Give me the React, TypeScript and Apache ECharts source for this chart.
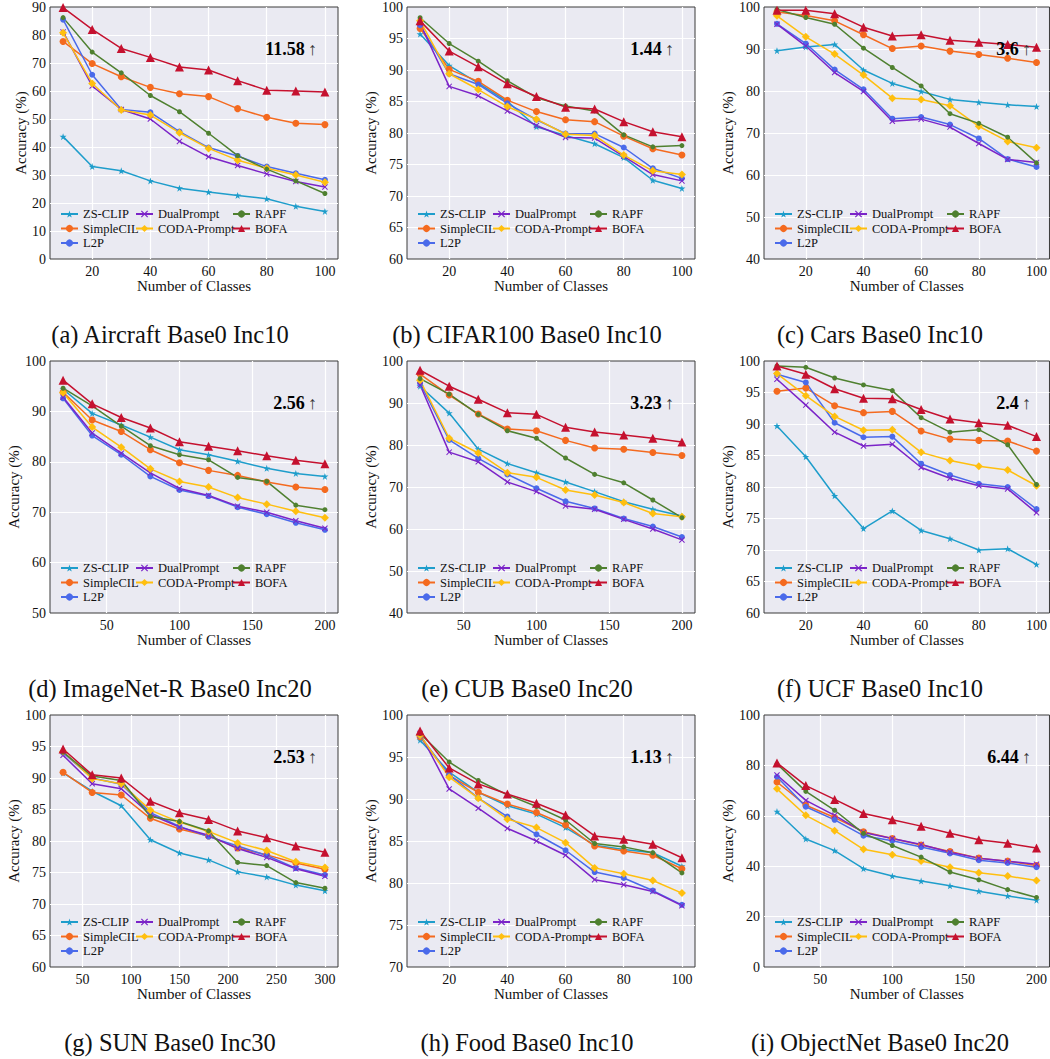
import React, { useEffect, useRef } from 'react';
import * as echarts from 'echarts';

const METHODS = ['ZS-CLIP', 'SimpleCIL', 'L2P', 'DualPrompt', 'CODA-Prompt', 'RAPF', 'BOFA'];

const X_INC10 = [10, 20, 30, 40, 50, 60, 70, 80, 90, 100];
const X_INC20 = [20, 40, 60, 80, 100, 120, 140, 160, 180, 200];
const X_INC30 = [30, 60, 90, 120, 150, 180, 210, 240, 270, 300];

const TICKS_INC10 = [20, 40, 60, 80, 100];
const TICKS_INC20 = [50, 100, 150, 200];
const TICKS_INC30 = [50, 100, 150, 200, 250, 300];

// rows follow METHODS order
const aircraftValues = [
  [43.7, 33.0, 31.5, 27.9, 25.3, 23.9, 22.7, 21.5, 18.8, 17.0],
  [77.7, 69.8, 65.1, 61.3, 59.0, 58.0, 53.7, 50.6, 48.5, 48.0],
  [85.5, 65.8, 53.4, 52.4, 45.5, 39.8, 36.8, 33.0, 30.6, 28.3],
  [81.1, 61.8, 53.4, 50.0, 42.0, 36.5, 33.4, 30.4, 27.7, 25.7],
  [80.8, 62.7, 53.2, 51.4, 45.1, 39.5, 35.3, 32.4, 30.0, 27.4],
  [86.2, 73.9, 66.5, 58.4, 52.6, 44.9, 36.9, 32.1, 27.9, 23.4],
  [89.8, 82.0, 75.2, 72.0, 68.6, 67.5, 63.7, 60.3, 60.0, 59.6],
];

const cifarValues = [
  [95.7, 90.7, 87.9, 85.0, 81.0, 79.6, 78.3, 76.1, 72.5, 71.2],
  [96.6, 90.1, 88.2, 85.2, 83.4, 82.1, 81.8, 79.5, 77.5, 76.5],
  [97.1, 89.4, 87.7, 84.7, 82.1, 79.9, 79.9, 77.7, 74.4, 72.8],
  [97.4, 87.4, 85.9, 83.5, 81.2, 79.3, 79.2, 76.3, 73.4, 72.4],
  [97.8, 89.4, 86.9, 84.2, 82.2, 79.8, 79.6, 76.5, 74.0, 73.4],
  [98.3, 94.2, 91.4, 88.3, 85.6, 84.3, 83.5, 79.7, 77.8, 78.0],
  [97.8, 93.0, 90.5, 87.8, 85.8, 84.1, 83.8, 81.8, 80.2, 79.4],
];

const carsValues = [
  [89.6, 90.5, 91.1, 85.0, 81.8, 79.9, 78.0, 77.3, 76.7, 76.3],
  [98.8, 98.0, 96.7, 93.4, 90.1, 90.7, 89.5, 88.7, 87.8, 86.8],
  [96.0, 91.3, 85.1, 80.4, 73.4, 73.8, 72.0, 68.7, 63.8, 61.9],
  [95.9, 90.7, 84.4, 79.9, 72.8, 73.3, 71.4, 67.5, 63.7, 63.0],
  [97.9, 92.9, 88.8, 83.8, 78.3, 78.0, 76.5, 71.6, 68.0, 66.5],
  [99.4, 97.5, 95.9, 90.2, 85.6, 81.2, 74.6, 72.3, 69.0, 62.9],
  [99.2, 99.2, 98.4, 95.2, 93.1, 93.4, 92.1, 91.6, 91.1, 90.4],
];

const imagenetRValues = [
  [94.4, 89.6, 87.3, 84.9, 82.4, 81.4, 80.1, 78.7, 77.7, 77.1],
  [93.8, 88.3, 86.0, 82.4, 79.8, 78.3, 77.3, 76.0, 75.0, 74.5],
  [92.6, 85.2, 81.4, 77.1, 74.4, 73.2, 71.0, 69.6, 67.9, 66.5],
  [92.8, 85.7, 81.7, 77.8, 74.7, 73.3, 71.2, 70.0, 68.3, 66.8],
  [93.7, 86.9, 82.9, 78.6, 76.1, 75.0, 72.9, 71.6, 70.2, 68.9],
  [94.6, 91.1, 87.1, 83.2, 81.4, 80.4, 76.9, 76.1, 71.4, 70.5],
  [96.2, 91.5, 88.8, 86.7, 84.0, 83.1, 82.2, 81.2, 80.3, 79.6],
];

const cubValues = [
  [94.0, 87.6, 79.0, 75.6, 73.4, 71.2, 68.9, 66.5, 64.7, 63.1],
  [96.9, 91.9, 87.4, 83.8, 83.4, 81.1, 79.3, 79.0, 78.2, 77.5],
  [94.7, 81.2, 76.8, 73.0, 69.7, 66.6, 64.9, 62.5, 60.6, 58.1],
  [94.3, 78.3, 76.0, 71.2, 68.9, 65.5, 64.7, 62.3, 60.0, 57.4],
  [95.4, 81.6, 78.1, 73.4, 72.3, 69.3, 68.1, 66.3, 63.7, 62.9],
  [95.8, 92.1, 87.3, 83.4, 81.6, 76.9, 73.0, 71.0, 66.9, 62.7],
  [97.8, 94.0, 90.9, 87.7, 87.3, 84.2, 83.1, 82.4, 81.6, 80.7],
];

const ucfValues = [
  [89.7, 84.8, 78.6, 73.4, 76.2, 73.1, 71.8, 70.0, 70.2, 67.7],
  [95.2, 95.7, 92.9, 91.8, 92.0, 88.9, 87.6, 87.4, 87.3, 85.7],
  [97.9, 96.6, 90.2, 87.9, 88.0, 83.7, 81.9, 80.5, 80.0, 76.5],
  [97.1, 93.0, 88.7, 86.5, 86.8, 83.1, 81.4, 80.2, 79.7, 75.9],
  [98.0, 94.5, 91.2, 89.0, 89.1, 85.5, 84.2, 83.3, 82.7, 80.2],
  [99.2, 99.0, 97.3, 96.2, 95.3, 91.0, 88.7, 89.1, 86.7, 80.4],
  [99.2, 97.9, 95.6, 94.1, 94.0, 92.3, 90.8, 90.2, 89.8, 88.0],
];

const sunValues = [
  [90.8, 87.9, 85.6, 80.2, 78.1, 77.0, 75.1, 74.3, 73.0, 72.1],
  [90.9, 87.7, 87.3, 83.6, 81.9, 80.8, 78.9, 77.8, 76.5, 75.5],
  [94.0, 90.0, 89.0, 84.5, 82.3, 80.7, 79.2, 77.7, 75.7, 74.6],
  [93.6, 89.1, 88.3, 84.2, 82.2, 80.9, 78.8, 77.4, 75.6, 74.4],
  [94.2, 89.9, 89.1, 84.9, 83.0, 81.5, 79.7, 78.5, 76.7, 75.8],
  [94.1, 90.3, 89.6, 83.9, 83.1, 81.6, 76.6, 76.1, 73.4, 72.5],
  [94.6, 90.5, 90.0, 86.3, 84.5, 83.4, 81.6, 80.5, 79.2, 78.2],
];

const foodValues = [
  [97.0, 93.2, 90.8, 89.2, 88.2, 86.6, 84.5, 84.0, 83.6, 82.0],
  [97.4, 92.8, 90.8, 89.4, 88.4, 86.9, 84.4, 83.8, 83.3, 81.7],
  [97.5, 92.9, 90.1, 87.9, 85.8, 83.9, 81.3, 80.6, 79.1, 77.4],
  [97.8, 91.2, 88.9, 86.5, 85.0, 83.3, 80.4, 79.8, 79.0, 77.3],
  [97.6, 92.6, 90.1, 87.6, 86.6, 84.8, 81.8, 81.1, 80.3, 78.8],
  [97.8, 94.4, 92.2, 90.5, 89.1, 87.5, 84.7, 84.3, 83.6, 81.2],
  [98.1, 93.7, 91.8, 90.6, 89.5, 88.1, 85.6, 85.2, 84.6, 83.0],
];

const objectNetValues = [
  [61.7, 50.8, 46.2, 39.0, 36.1, 34.1, 32.2, 30.1, 28.2, 26.5],
  [73.4, 64.2, 59.3, 53.7, 51.0, 48.4, 45.8, 43.2, 42.0, 40.3],
  [75.5, 63.6, 58.4, 52.1, 50.1, 47.6, 45.1, 42.4, 41.3, 39.6],
  [76.2, 66.1, 60.2, 53.4, 51.0, 48.6, 45.5, 43.2, 42.0, 40.8],
  [70.7, 60.2, 54.1, 46.7, 44.5, 42.1, 39.6, 37.4, 36.1, 34.3],
  [80.6, 69.7, 62.2, 53.0, 48.2, 43.6, 37.7, 34.6, 30.7, 27.6],
  [81.0, 72.0, 66.5, 60.9, 58.4, 55.9, 53.1, 50.5, 49.1, 47.2],
];

const CAPTIONS = [
  '(a) Aircraft Base0 Inc10', '(b) CIFAR100 Base0 Inc10', '(c) Cars Base0 Inc10',
  '(d) ImageNet-R Base0 Inc20', '(e) CUB Base0 Inc20', '(f) UCF Base0 Inc10',
  '(g) SUN Base0 Inc30', '(h) Food Base0 Inc10', '(i) ObjectNet Base0 Inc20',
];
const GAINS = ['11.58', '1.44', '3.6', '2.56', '3.23', '2.4', '2.53', '1.13', '6.44'];

const PANELS = [
  { xs: X_INC10, vals: aircraftValues, y: [0, 90, 10], ticks: TICKS_INC10 },
  { xs: X_INC10, vals: cifarValues, y: [60, 100, 5], ticks: TICKS_INC10 },
  { xs: X_INC10, vals: carsValues, y: [40, 100, 10], ticks: TICKS_INC10 },
  { xs: X_INC20, vals: imagenetRValues, y: [50, 100, 10], ticks: TICKS_INC20 },
  { xs: X_INC20, vals: cubValues, y: [40, 100, 10], ticks: TICKS_INC20 },
  { xs: X_INC10, vals: ucfValues, y: [60, 100, 5], ticks: TICKS_INC10 },
  { xs: X_INC30, vals: sunValues, y: [60, 100, 5], ticks: TICKS_INC30 },
  { xs: X_INC10, vals: foodValues, y: [70, 100, 5], ticks: TICKS_INC10 },
  { xs: X_INC20, vals: objectNetValues, y: [0, 100, 20], ticks: TICKS_INC20 },
];

const COLORS = ['#1E9DCB', '#F46A1F', '#4A6AEA', '#7B24C8', '#FFBF0F', '#4F8030', '#C5112F'];
const STAR = 'path://M5,0 L6.18,3.6 L10,3.6 L6.9,5.9 L8.1,9.5 L5,7.3 L1.9,9.5 L3.1,5.9 L0,3.6 L3.8,3.6 Z';
const XMARK = 'path://M1.2,0 L5,3.8 L8.8,0 L10,1.2 L6.2,5 L10,8.8 L8.8,10 L5,6.2 L1.2,10 L0,8.8 L3.8,5 L0,1.2 Z';
const SYMBOLS = [STAR, 'circle', 'circle', XMARK, 'diamond', 'circle', 'triangle'];
const SIZES = [7, 7, 6, 6, 8, 5, 9];

const FONT = 'Liberation Serif';
const TXT = '#111';
const COL_LEFT = [50, 407, 764];
const ROW_TOP = [7, 361, 715];
const GW = 288;
const GH = 252;

function buildOption() {
  const grid: any[] = [];
  const xAxis: any[] = [];
  const yAxis: any[] = [];
  const series: any[] = [];
  const legend: any[] = [];
  const graphic: any[] = [];

  PANELS.forEach((p, i) => {
    const gl = COL_LEFT[i % 3];
    const gt = ROW_TOP[Math.floor(i / 3)];
    const xFirst = p.xs[0];
    const xLast = p.xs[p.xs.length - 1];
    const pad = (xLast - xFirst) * 0.05;
    grid.push({
      left: gl, top: gt, width: GW, height: GH, show: true,
      backgroundColor: '#EAEAF2', borderColor: '#3a3a3a', borderWidth: 1,
    });
    xAxis.push({
      type: 'value', gridIndex: i, min: xFirst - pad, max: xLast + pad,
      name: 'Number of Classes', nameLocation: 'middle', nameGap: 18,
      nameTextStyle: { fontFamily: FONT, fontSize: 15, color: TXT },
      axisLine: { show: false },
      axisTick: { show: false, customValues: p.ticks },
      axisLabel: { customValues: p.ticks, fontFamily: FONT, fontSize: 14, color: TXT, margin: 5 },
      splitLine: { show: true, lineStyle: { color: '#ffffff', width: 1.2 } },
    });
    yAxis.push({
      type: 'value', gridIndex: i, min: p.y[0], max: p.y[1], interval: p.y[2],
      name: 'Accuracy (%)', nameLocation: 'middle', nameGap: i === 0 ? 21 : 27,
      nameTextStyle: { fontFamily: FONT, fontSize: 15, color: TXT },
      axisLine: { show: false },
      axisTick: { show: false },
      axisLabel: { fontFamily: FONT, fontSize: 14, color: TXT, margin: 4 },
      splitLine: { show: true, showMinLine: false, showMaxLine: false, lineStyle: { color: '#ffffff', width: 1.2 } },
    });
    METHODS.forEach((m, k) => {
      series.push({
        type: 'line', name: m, xAxisIndex: i, yAxisIndex: i,
        data: p.xs.map((x, j) => [x, p.vals[k][j]]),
        symbol: SYMBOLS[k], symbolSize: SIZES[k],
        lineStyle: { width: 1.5, color: COLORS[k] },
        itemStyle: { color: COLORS[k] },
        emphasis: { disabled: true },
        z: 2,
      });
    });
    const cols = [[METHODS[0], METHODS[1], METHODS[2]], [METHODS[3], METHODS[4]], [METHODS[5], METHODS[6]]];
    const offs = [10, 85, 182];
    cols.forEach((c, ci) => {
      legend.push({
        data: c, orient: 'vertical', left: gl + offs[ci], top: gt + 200,
        itemWidth: 17, itemHeight: 9, itemGap: 0.5, padding: 0, selectedMode: false,
        textStyle: { fontFamily: FONT, fontSize: 12.5, color: TXT, lineHeight: 14 },
      });
    });
    graphic.push({
      type: 'text', x: gl + 267, y: gt + 42, z: 100,
      style: {
        text: '{n|' + GAINS[i] + '} {a|↑}',
        align: 'right', verticalAlign: 'middle', textAlign: 'right', textVerticalAlign: 'middle',
        rich: {
          n: { fontFamily: FONT, fontSize: 18, fontWeight: 'bold', fill: '#000', color: '#000' },
          a: { fontFamily: FONT, fontSize: 18, fill: '#333', color: '#333' },
        },
      },
    });
    graphic.push({
      type: 'text', x: [170, 527, 880][i % 3], y: gt + 327,
      style: {
        text: CAPTIONS[i], fontFamily: FONT, fontSize: 24.5, fill: TXT,
        align: 'center', verticalAlign: 'middle', textAlign: 'center', textVerticalAlign: 'middle',
      },
    });
  });

  return { animation: false, textStyle: { fontFamily: FONT }, grid, xAxis, yAxis, series, legend, graphic };
}

export default function App() {
  const ref = useRef<HTMLDivElement>(null);
  useEffect(() => {
    document.body.style.margin = '0';
    if (!ref.current) return;
    const chart = echarts.init(ref.current, null, { renderer: 'svg' });
    chart.setOption(buildOption());
    return () => chart.dispose();
  }, []);
  return <div ref={ref} style={{ width: 1050, height: 1059, background: '#fff' }} />;
}
